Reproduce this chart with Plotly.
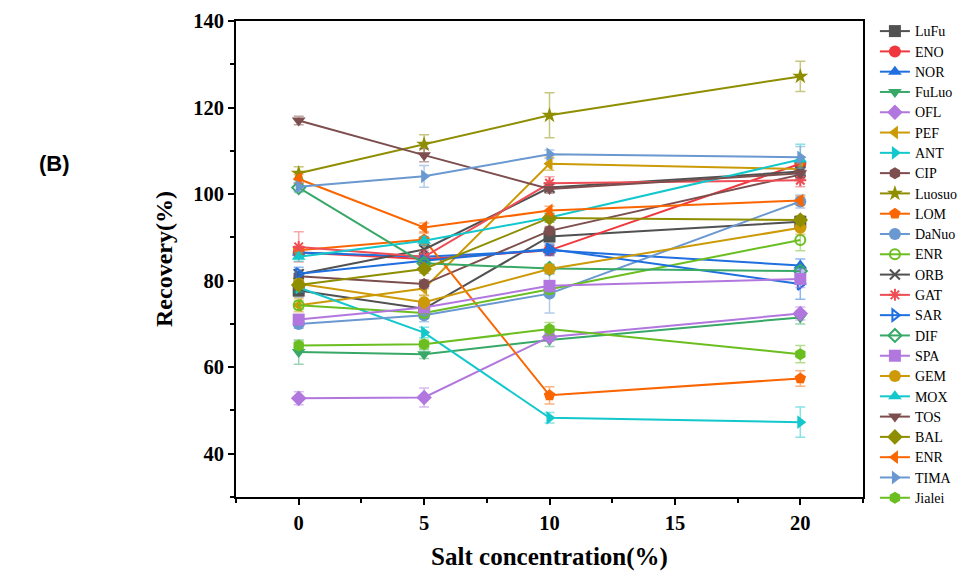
import plotly.graph_objects as go

salt = [0, 5, 10, 20]

names = ["LuFu", "ENO", "NOR", "FuLuo", "OFL", "PEF", "ANT", "CIP", "Luosuo", "LOM",
         "DaNuo", "ENR", "ORB", "GAT", "SAR", "DIF", "SPA", "GEM", "MOX", "TOS",
         "BAL", "ENR", "TIMA", "Jialei"]

LuFu = [77.7, 73.5, 90.2, 93.6]
ENO = [86.5, 85.0, 87.0, 107.0]
NOR = [86.5, 85.5, 87.0, 83.5]
FuLuo = [63.5, 63.0, 66.3, 71.5]
OFL = [52.8, 53.0, 67.0, 72.4]
PEF = [74.3, 78.2, 107.0, 105.8]
ANT = [78.4, 68.0, 48.3, 47.3]
CIP = [81.0, 79.2, 91.5, 104.5]
Luosuo = [104.8, 111.5, 118.2, 127.2]
LOM = [87.0, 89.5, 53.5, 57.4]
DaNuo = [70.0, 72.0, 77.0, 98.3]
ENR = [74.3, 72.5, 78.0, 89.4]
ORB = [81.5, 87.2, 101.5, 105.2]
GAT = [87.8, 85.5, 102.5, 103.2]
SAR = [81.6, 84.6, 87.3, 79.2]
DIF = [101.5, 84.0, 82.8, 82.2]
SPA = [71.0, 73.8, 78.8, 80.4]
GEM = [79.3, 75.0, 82.7, 92.2]
MOX = [85.5, 89.2, 94.6, 108.0]
TOS = [117.0, 109.0, 101.2, 104.8]
BAL = [79.0, 82.7, 94.5, 94.0]
ENR2 = [103.5, 92.3, 96.2, 98.5]
TIMA = [101.7, 104.1, 109.2, 108.5]
Jialei = [65.0, 65.3, 68.8, 63.0]

err_LuFu = [1.5, 1.0, 1.2, 1.0]
err_ENO = [1.2, 1.0, 1.2, 1.5]
err_NOR = [1.0, 1.0, 1.2, 1.5]
err_FuLuo = [2.8, 1.0, 1.5, 1.5]
err_OFL = [1.5, 2.2, 1.0, 1.5]
err_PEF = [1.5, 1.5, 1.5, 1.2]
err_ANT = [1.0, 1.2, 1.2, 3.5]
err_CIP = [1.0, 1.0, 1.0, 1.0]
err_Luosuo = [1.5, 2.2, 5.2, 3.5]
err_LOM = [1.0, 1.5, 2.0, 1.8]
err_DaNuo = [1.0, 1.5, 4.5, 1.5]
err_ENR = [1.0, 1.0, 1.0, 2.5]
err_ORB = [1.0, 1.0, 1.0, 1.0]
err_GAT = [3.5, 1.5, 1.5, 1.5]
err_SAR = [1.5, 1.0, 1.2, 3.5]
err_DIF = [1.0, 1.0, 1.0, 1.0]
err_SPA = [1.0, 1.0, 1.0, 2.0]
err_GEM = [1.0, 1.5, 1.0, 1.5]
err_MOX = [1.0, 1.0, 1.0, 3.5]
err_TOS = [1.0, 1.5, 1.0, 1.0]
err_BAL = [1.0, 1.0, 1.0, 1.0]
err_ENR2 = [1.0, 1.0, 1.0, 1.0]
err_TIMA = [1.0, 2.5, 1.0, 2.5]
err_Jialei = [1.0, 1.0, 1.5, 2.0]

values = [LuFu, ENO, NOR, FuLuo, OFL, PEF, ANT, CIP, Luosuo, LOM, DaNuo, ENR, ORB,
          GAT, SAR, DIF, SPA, GEM, MOX, TOS, BAL, ENR2, TIMA, Jialei]
errors = [err_LuFu, err_ENO, err_NOR, err_FuLuo, err_OFL, err_PEF, err_ANT, err_CIP,
          err_Luosuo, err_LOM, err_DaNuo, err_ENR, err_ORB, err_GAT, err_SAR, err_DIF,
          err_SPA, err_GEM, err_MOX, err_TOS, err_BAL, err_ENR2, err_TIMA, err_Jialei]

colors = ["#515151", "#F0373E", "#1F6FDE", "#38A867", "#B177DE", "#CC9A06", "#12C8CC",
          "#7D4E4E", "#8E8E00", "#FA6500", "#6A98D0", "#6BBE1F", "#515151", "#EF4D55",
          "#1F6FDE", "#38A867", "#B177DE", "#CC9A06", "#12C8CC", "#7D4E4E", "#8E8E00",
          "#FA6500", "#6A98D0", "#6BBE1F"]
symbols = ["square", "circle", "triangle-up", "triangle-down", "diamond", "triangle-left",
           "triangle-right", "hexagon", "star", "pentagon", "circle", "circle-open",
           "x-thin-open", "asterisk-open", "triangle-right-open", "diamond-open", "square",
           "circle", "triangle-up", "triangle-down", "diamond", "triangle-left",
           "triangle-right", "hexagon"]


def rgba(h, a):
    h = h.lstrip("#")
    r, g, b = int(h[0:2], 16), int(h[2:4], 16), int(h[4:6], 16)
    return f"rgba({r},{g},{b},{a})"


fig = go.Figure()
for name, y, e, c, s in zip(names, values, errors, colors, symbols):
    open_sym = s.endswith("-open")
    fig.add_trace(go.Scatter(
        x=salt, y=y, name=f'<span style="font-size:14px">{name}</span>',
        mode="lines+markers",
        line=dict(color=c, width=2),
        marker=dict(symbol=s, size=12 if not open_sym else 10, color=c,
                    line=dict(color=c, width=2 if open_sym else 0)),
        error_y=dict(type="data", array=e, visible=True, color=rgba(c, 0.5),
                     thickness=1.5, width=5),
    ))

font_serif = "Liberation Serif, Times New Roman, serif"

fig.update_layout(
    width=960, height=568,
    margin=dict(l=227.7, r=104.7, t=12.7, b=79.3, autoexpand=False),
    paper_bgcolor="white", plot_bgcolor="white",
    font=dict(family=font_serif, color="black"),
    showlegend=True,
    legend=dict(x=1.019, y=0.986, xanchor="left", yanchor="top", yref="container",
                maxheight=560,
                font=dict(family=font_serif, size=13.3, color="black"),
                bgcolor="rgba(0,0,0,0)", borderwidth=0, tracegroupgap=0),
    xaxis=dict(
        range=[-2.5, 22.5], tickvals=[0, 5, 10, 15, 20], ticks="outside", ticklen=6,
        tickwidth=1.5, tickcolor="black", showline=True, linecolor="black", linewidth=2,
        mirror=True, showgrid=False, zeroline=False,
        minor=dict(dtick=2.5, tick0=0, ticks="outside", ticklen=4, tickwidth=1.5,
                   tickcolor="black", showgrid=False),
        tickfont=dict(family=font_serif, size=20.5, color="black", weight="bold"),
        title=dict(text="<b>Salt concentration(%)</b>", standoff=15,
                   font=dict(family=font_serif, size=25, color="black")),
    ),
    yaxis=dict(
        range=[30, 140], tickvals=[40, 60, 80, 100, 120, 140], ticks="outside", ticklen=6,
        tickwidth=1.5, tickcolor="black", showline=True, linecolor="black", linewidth=2,
        mirror=True, showgrid=False, zeroline=False,
        minor=dict(dtick=10, tick0=30, ticks="outside", ticklen=4, tickwidth=1.5,
                   tickcolor="black", showgrid=False),
        tickfont=dict(family=font_serif, size=20.5, color="black", weight="bold"),
        title=dict(text="<b>Recovery(%)</b>", standoff=14,
                   font=dict(family=font_serif, size=24, color="black")),
    ),
    annotations=[dict(text="<b>(B)</b>", xref="paper", yref="paper",
                      x=-0.2895, y=0.7015, xanchor="center", yanchor="middle",
                      showarrow=False,
                      font=dict(family="Liberation Sans, Arial, sans-serif", size=22,
                                color="black"))],
)

fig.write_html("out.html")
